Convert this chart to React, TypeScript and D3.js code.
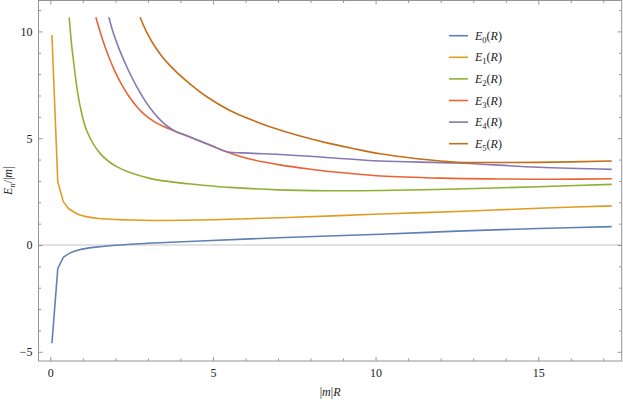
import * as d3 from 'd3';
import { useEffect, useRef } from 'react';

type Pt = [number, number];

// E_n(R)/|m| against |m|R
const e0: Pt[] = [
  [0.05, -4.6], [0.23, -1.1], [0.4, -0.58], [0.6, -0.38], [0.9, -0.22],
  [1.4, -0.1], [2.0, -0.01], [3.0, 0.08], [4.6, 0.19], [7.0, 0.34],
  [10.15, 0.5], [12.5, 0.65], [15.0, 0.77], [17.26, 0.86],
];
const e1: Pt[] = [
  [0.05, 9.83], [0.23, 2.96], [0.4, 2.03], [0.55, 1.72], [0.91, 1.4],
  [1.43, 1.25], [2.45, 1.17], [3.2, 1.15], [5.0, 1.18], [7.5, 1.3],
  [10.15, 1.45], [12.5, 1.57], [15.0, 1.72], [17.26, 1.83],
];
const e2: Pt[] = [
  [0.58, 10.66], [0.66, 9.3], [0.71, 8.66], [0.8, 7.55], [0.91, 6.55],
  [1.12, 5.35], [1.53, 4.29], [2.04, 3.67], [3.06, 3.12], [4.6, 2.81],
  [5.5, 2.7], [7.0, 2.58], [8.5, 2.54], [10.15, 2.55], [12.5, 2.62],
  [15.0, 2.73], [17.26, 2.84],
];
const e3: Pt[] = [
  [1.4, 10.66], [1.6, 9.65], [1.8, 8.8], [2.0, 8.08], [2.2, 7.5],
  [2.4, 7.0], [2.66, 6.47], [2.9, 6.1], [3.17, 5.8], [3.5, 5.54],
  [3.83, 5.33], [4.2, 5.11], [4.6, 4.87], [5.0, 4.62], [5.42, 4.37],
  [6.04, 4.06], [7.06, 3.75], [8.0, 3.55], [9.0, 3.38], [10.15, 3.23],
  [12.0, 3.13], [14.0, 3.09], [15.5, 3.08], [17.26, 3.1],
];
const e4: Pt[] = [
  [1.8, 10.66], [1.94, 9.91], [2.14, 9.09], [2.4, 8.18], [2.66, 7.4],
  [2.91, 6.76], [3.17, 6.21], [3.37, 5.87], [3.6, 5.56], [3.83, 5.33],
  [4.2, 5.11], [4.6, 4.87], [5.0, 4.62], [5.42, 4.37], [6.14, 4.3],
  [7.06, 4.24], [8.5, 4.1], [10.15, 3.93], [12.5, 3.84], [15.0, 3.64],
  [17.26, 3.54],
];
const e5: Pt[] = [
  [2.76, 10.66], [2.95, 10.0], [3.17, 9.4], [3.4, 8.9], [3.68, 8.4],
  [4.19, 7.67], [4.81, 6.94], [5.52, 6.3], [6.2, 5.85], [6.75, 5.54],
  [7.68, 5.1], [8.5, 4.78], [9.3, 4.52], [10.15, 4.27], [11.16, 4.06],
  [12.0, 3.93], [12.5, 3.87], [13.5, 3.86], [15.0, 3.87], [17.26, 3.93],
];

const series = [e0, e1, e2, e3, e4, e5];
// how many leading points are joined by straight segments (coarse sampling near R=0)
const straightHead = [3, 4, 0, 0, 0, 0];
const colors = ['#5E81B5', '#E19C24', '#8FB032', '#EB6235', '#8778B3', '#C56E1A'];
const legendIdx = ['0', '1', '2', '3', '4', '5'];
const xMajor = [0, 5, 10, 15];
const yMajor = [-5, 0, 5, 10];

export default function App() {
  const svgRef = useRef<SVGSVGElement>(null);
  const width = 623;
  const height = 401;

  useEffect(() => {
    if (!svgRef.current) return;
    const svg = d3.select(svgRef.current);
    svg.selectAll('*').remove();

    const left = 38.5, right = 621.7, top = 0.5, bottom = 361;
    const x = d3.scaleLinear().domain([-0.363, 17.566]).range([left, right]);
    const y = d3.scaleLinear().domain([-5.431, 11.447]).range([bottom, top]);
    const font = '"Liberation Serif", "Times New Roman", Times, serif';
    const frame = '#949494';

    svg.append('defs').append('clipPath').attr('id', 'plot')
      .append('rect').attr('x', left).attr('y', top)
      .attr('width', right - left).attr('height', bottom - top);

    // zero line
    svg.append('line')
      .attr('x1', left).attr('x2', right)
      .attr('y1', y(0)).attr('y2', y(0))
      .attr('stroke', '#c4c4c4').attr('stroke-width', 1);

    const xMinor = d3.range(0, 18).filter((v) => !xMajor.includes(v));
    const yMinor = d3.range(-5, 12).filter((v) => !yMajor.includes(v));

    const styleAxis = (g: d3.Selection<SVGGElement, unknown, null, undefined>) => {
      g.select('.domain').remove();
      g.selectAll('line').attr('stroke', frame);
      g.selectAll('text').attr('fill', '#222').style('font-family', font).style('font-size', '12px');
    };

    // bottom
    svg.append('g').attr('transform', `translate(0,${bottom})`)
      .call(d3.axisBottom(x).tickValues(xMajor).tickSize(-4).tickPadding(7).tickFormat(d3.format('d')))
      .call(styleAxis);
    svg.append('g').attr('transform', `translate(0,${bottom})`)
      .call(d3.axisBottom(x).tickValues(xMinor).tickSize(-2.5).tickFormat(() => ''))
      .call(styleAxis);
    // top
    svg.append('g').attr('transform', `translate(0,${top})`)
      .call(d3.axisTop(x).tickValues(xMajor).tickSize(-4).tickFormat(() => ''))
      .call(styleAxis);
    svg.append('g').attr('transform', `translate(0,${top})`)
      .call(d3.axisTop(x).tickValues(xMinor).tickSize(-2.5).tickFormat(() => ''))
      .call(styleAxis);
    // left
    svg.append('g').attr('transform', `translate(${left},0)`)
      .call(d3.axisLeft(y).tickValues(yMajor).tickSize(-4).tickPadding(6)
        .tickFormat((d) => (+d < 0 ? '\u2212' + Math.abs(+d) : String(d))))
      .call(styleAxis);
    svg.append('g').attr('transform', `translate(${left},0)`)
      .call(d3.axisLeft(y).tickValues(yMinor).tickSize(-2.5).tickFormat(() => ''))
      .call(styleAxis);
    // right
    svg.append('g').attr('transform', `translate(${right},0)`)
      .call(d3.axisRight(y).tickValues(yMajor).tickSize(-4).tickFormat(() => ''))
      .call(styleAxis);
    svg.append('g').attr('transform', `translate(${right},0)`)
      .call(d3.axisRight(y).tickValues(yMinor).tickSize(-2.5).tickFormat(() => ''))
      .call(styleAxis);

    // frame
    svg.append('rect')
      .attr('x', left).attr('y', top)
      .attr('width', right - left).attr('height', bottom - top)
      .attr('fill', 'none').attr('stroke', frame).attr('stroke-width', 1);

    // curves
    const smooth = d3.line<Pt>()
      .x((d) => x(d[0]))
      .y((d) => y(d[1]))
      .curve(d3.curveCatmullRom.alpha(0.5));
    const straight = d3.line<Pt>()
      .x((d) => x(d[0]))
      .y((d) => y(d[1]));
    const curves = svg.append('g').attr('clip-path', 'url(#plot)');
    series.forEach((s, i) => {
      const k = straightHead[i];
      const parts = k > 1 ? [straight(s.slice(0, k)), smooth(s.slice(k - 1))] : [smooth(s)];
      curves.append('path')
        .attr('d', parts.join(''))
        .attr('fill', 'none')
        .attr('stroke', colors[i])
        .attr('stroke-width', 1.6)
        .attr('stroke-linejoin', 'round');
    });

    // axis labels
    const xl = svg.append('text')
      .attr('x', (left + right) / 2).attr('y', 396)
      .attr('text-anchor', 'middle')
      .style('font-family', font).style('font-size', '12px').attr('fill', '#222');
    xl.append('tspan').text('|');
    xl.append('tspan').attr('font-style', 'italic').text('m');
    xl.append('tspan').text('|');
    xl.append('tspan').attr('font-style', 'italic').text('R');

    const yl = svg.append('text')
      .attr('transform', `translate(12,${(top + bottom) / 2}) rotate(-90)`)
      .attr('text-anchor', 'middle')
      .style('font-family', font).style('font-size', '12px').attr('fill', '#222');
    yl.append('tspan').attr('font-style', 'italic').text('E');
    yl.append('tspan').attr('font-style', 'italic').attr('font-size', '8.5px').attr('dy', 3).text('n');
    yl.append('tspan').attr('dy', -3).text('/|');
    yl.append('tspan').attr('font-style', 'italic').text('m');
    yl.append('tspan').text('|');

    // legend
    const lg = svg.append('g');
    legendIdx.forEach((k, i) => {
      const cy = 35.7 + i * 21.6;
      lg.append('line')
        .attr('x1', 449).attr('x2', 468)
        .attr('y1', cy).attr('y2', cy)
        .attr('stroke', colors[i]).attr('stroke-width', 1.6);
      const t = lg.append('text')
        .attr('x', 475).attr('y', cy + 4)
        .style('font-family', font).style('font-size', '12px').attr('fill', '#222');
      t.append('tspan').attr('font-style', 'italic').text('E');
      t.append('tspan').attr('font-size', '8.5px').attr('dy', 3).text(k);
      t.append('tspan').attr('dy', -3).text('(');
      t.append('tspan').attr('font-style', 'italic').text('R');
      t.append('tspan').text(')');
    });
  }, []);

  return (
    <div style={{ position: 'absolute', left: 0, top: 0, background: '#fff' }}>
      <svg ref={svgRef} width={width} height={height}></svg>
    </div>
  );
}
